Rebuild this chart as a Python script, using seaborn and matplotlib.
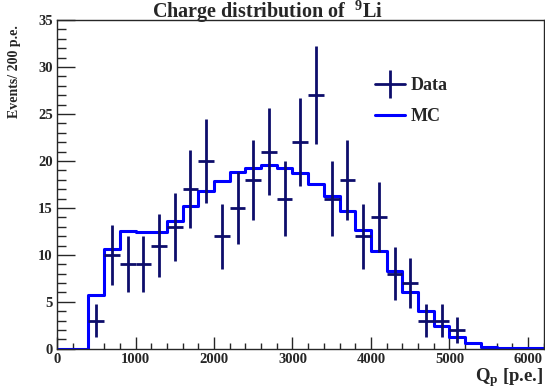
import numpy as np
import pandas as pd
import matplotlib
matplotlib.use('Agg')
import matplotlib.pyplot as plt
from matplotlib.lines import Line2D
from matplotlib.ticker import MultipleLocator
import seaborn as sns

# data points (bin centres, 200 p.e. bins)
data_q = [500, 700, 900, 1100, 1300, 1500, 1700, 1900, 2100, 2300, 2500, 2700,
          2900, 3100, 3300, 3500, 3700, 3900, 4100, 4300, 4500, 4700, 4900, 5100]
data_n = [3, 10, 9, 9, 11, 13, 17, 20, 12, 15, 18, 21,
          16, 22, 27, 16, 18, 12, 14, 8, 7, 3, 3, 2]

# MC histogram, bin edges 0..6200 step 200
mc_edges = list(range(0, 6400, 200))
mc_vals = [0, 0, 5.7, 10.65, 12.5, 12.45, 12.4, 13.6, 15.25, 16.8, 17.9, 18.8,
           19.3, 19.55, 19.2, 18.7, 17.5, 16.3, 14.7, 12.6, 10.45, 8.3, 6.05,
           4.0, 2.4, 1.26, 0.6, 0.2, 0.05, 0.05, 0.05]

df = pd.DataFrame({'q': data_q, 'n': data_n})
df['err'] = np.sqrt(df['n'])

sns.set_style('ticks')
plt.rcParams['font.family'] = ['Liberation Serif', 'DejaVu Serif']
plt.rcParams['font.weight'] = 'bold'
plt.rcParams['mathtext.default'] = 'regular'

fig = plt.figure(figsize=(5.45, 3.92), dpi=100)
ax = fig.add_axes([0.1046, 0.110, 0.893, 0.839])

mc_df = pd.DataFrame({'q': mc_edges[:-1], 'w': mc_vals})
sns.histplot(data=mc_df, x='q', weights='w', bins=mc_edges, element='step',
             fill=False, color='#0000ff', linewidth=2.2, ax=ax)
ax.errorbar(df['q'], df['n'], xerr=100, yerr=df['err'], fmt='none',
            ecolor='#0d0d6b', elinewidth=2.0, capsize=0)

# legend
h_data = Line2D([], [], color='#0d0d6b', lw=2.0, marker='|', markersize=20,
                markeredgewidth=2.0)
h_mc = Line2D([], [], color='#0000ff', lw=2.2)
ax.legend([h_data, h_mc], ['Data', 'MC'], loc='upper left',
          bbox_to_anchor=(0.62, 0.875), frameon=False,
          prop={'weight': 'bold', 'size': 13}, handlelength=1.65,
          handletextpad=0.35, labelspacing=0.75)

ax.set_xlim(0, 6200)
ax.set_ylim(0, 35)
ax.xaxis.set_major_locator(MultipleLocator(1000))
ax.xaxis.set_minor_locator(MultipleLocator(200))
ax.yaxis.set_major_locator(MultipleLocator(5))
ax.yaxis.set_minor_locator(MultipleLocator(1))
ax.tick_params(which='both', direction='in', top=False, right=False,
               labelsize=10.5, width=1.0, pad=3)
ax.tick_params(which='major', axis='x', length=9)
ax.tick_params(which='minor', axis='x', length=4.5)
ax.tick_params(which='major', axis='y', length=13)
ax.tick_params(which='minor', axis='y', length=6.5)
for lab in ax.get_xticklabels() + ax.get_yticklabels():
    lab.set_fontweight('bold')
for s in ax.spines.values():
    s.set_linewidth(1.0)

ax.set_xlabel('Q$_{p}$ [p.e.]', fontsize=13.5, fontweight='bold')
ax.xaxis.set_label_coords(1.0, -0.052)
ax.xaxis.label.set_horizontalalignment('right')
ax.xaxis.label.set_verticalalignment('top')
ax.set_ylabel('Events/ 200 p.e.', fontsize=10, fontweight='bold')
ax.yaxis.set_label_coords(-0.088, 0.985)
ax.yaxis.label.set_verticalalignment('center')
ax.yaxis.label.set_horizontalalignment('right')
fig.text(0.49, 1 - 18 / 392, 'Charge distribution of  $^{9}$Li', ha='center',
         va='baseline', fontsize=14.5, fontweight='bold')

fig.savefig('out.png', dpi=100)
